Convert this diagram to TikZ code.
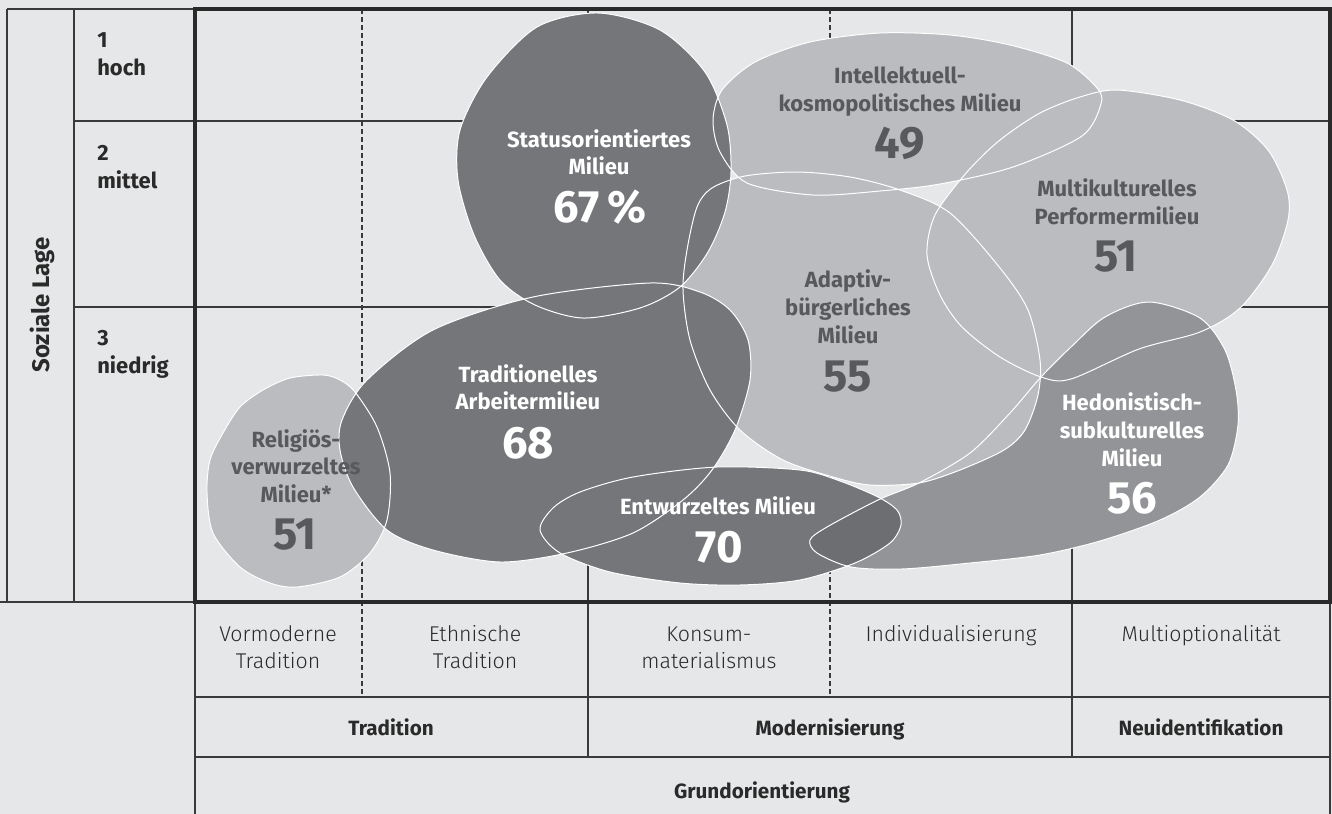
\documentclass[tikz,border=0pt]{standalone}
\usepackage{fontspec}
\setmainfont{Fira Sans}
\newfontfamily\lightfont{Fira Sans Light}
\definecolor{bgc}{HTML}{E6E7E8}
\definecolor{darkb}{HTML}{75767A}
\definecolor{lensb}{HTML}{6D6E72}
\definecolor{lightb}{HTML}{BBBCBF}
\definecolor{medb}{HTML}{939497}
\definecolor{txtmid}{HTML}{58595C}
\definecolor{txtdark}{HTML}{2A2A2A}
\definecolor{gridc}{HTML}{3A3A3A}
\tikzset{
  gridline/.style={draw=gridc, line width=1.1pt},
  frameline/.style={draw=txtdark, line width=2.3pt},
  dashline/.style={draw=gridc, line width=0.8pt, dash pattern=on 3.5pt off 2.5pt},
  outline/.style={draw=white, line width=0.75pt},
  ttl/.style={font=\bfseries\fontsize{16.5}{20}\selectfont, anchor=base, inner sep=0pt},
  num/.style={font=\bfseries\fontsize{34}{38}\selectfont, anchor=base, inner sep=0pt},
  onlight/.style={text=txtmid},
  ondark/.style={text=white},
  rowlab/.style={font=\bfseries\fontsize{16.5}{20}\selectfont, anchor=base west, inner sep=0pt, text=txtdark},
  sublab/.style={font=\lightfont\fontsize{16}{19}\selectfont, anchor=base, inner sep=0pt, text=txtdark},
  headlab/.style={font=\bfseries\fontsize{15.5}{19}\selectfont, anchor=base, inner sep=0pt, text=txtdark},
}
\def\pStatus{plot[smooth cycle] coordinates {(598,13) (660,30) (705,72) (727,125) (731,172) (725,212) (708,252) (680,287) (640,308) (583,318) (535,305) (500,280) (474,235) (458,180) (460,130) (487,77) (537,27)}}
\def\pIntel{plot[smooth cycle] coordinates {(713,120) (722,90) (755,62) (810,42) (880,33) (950,35) (1010,45) (1067,63) (1097,88) (1101,104) (1082,136) (1013,167) (940,184) (880,191) (813,195) (747,183) (720,152)}}
\def\pMulti{plot[smooth cycle] coordinates {(1117,90) (1180,100) (1233,120) (1268,150) (1287,190) (1288,220) (1272,265) (1240,308) (1200,332) (1139,349) (1071,379) (1041,377) (1000,357) (962,327) (940,295) (927,255) (935,215) (967,172) (1000,140) (1040,113) (1080,97)}}
\def\pAdapt{plot[smooth cycle] coordinates {(797,172) (850,177) (900,190) (950,213) (1000,268) (1028,310) (1040,360) (1038,395) (1025,430) (1004,450) (960,470) (919,483) (870,485) (833,477) (783,460) (740,430) (710,390) (690,340) (683,290) (687,250) (697,207) (712,188) (745,176)}}
\def\pHedon{plot[smooth cycle] coordinates {(1149,302) (1200,318) (1225,350) (1236,390) (1238,425) (1228,465) (1200,497) (1160,520) (1100,541) (1040,555) (970,563) (902,569) (851,567) (817,553) (810,540) (827,527) (878,500) (919,483) (970,453) (1010,413) (1041,377) (1071,347) (1105,317)}}
\def\pTrad{plot[smooth cycle] coordinates {(650,283) (533,297) (433,330) (367,380) (342,420) (340,450) (353,487) (387,530) (433,550) (500,562) (567,553) (633,533) (683,500) (712,470) (735,430) (750,380) (748,340) (730,310) (700,292)}}
\def\pEntw{plot[smooth cycle] coordinates {(540,530) (553,508) (580,492) (633,477) (717,467) (800,470) (840,481) (878,497) (897,510) (901,525) (890,543) (855,563) (800,580) (740,585) (680,583) (610,572) (560,553)}}
\def\pRelig{plot[smooth cycle] coordinates {(323,375) (290,378) (263,390) (240,407) (223,433) (210,460) (207,493) (213,533) (240,567) (270,583) (297,587) (340,577) (370,553) (387,520) (390,473) (377,427) (355,392) (340,380)}}
\begin{document}
\begin{tikzpicture}[x=0.75pt, y=-0.75pt]
\useasboundingbox (0,0) rectangle (1332,814);
\fill[bgc] (0,0) rectangle (1332,814);
\coordinate (fTL) at (195,9);
\coordinate (fBR) at (1330,602);
% left columns
\draw[gridline] (7,9) -- (195,9);
\draw[gridline] (7,9) -- (7,602);
\draw[gridline] (74,9) -- (74,602);
\draw[gridline] (74,121) -- (195,121);
\draw[gridline] (74,307) -- (195,307);
\draw[gridline] (0,602) -- (195,602);
% inner grid
\draw[gridline] (195,121) -- (1330,121);
\draw[gridline] (195,307) -- (1330,307);
\draw[gridline] (588,9) -- (588,757);
\draw[gridline] (1072,9) -- (1072,757);
\draw[dashline] (362,9) -- (362,697);
\draw[dashline] (830,9) -- (830,697);
% bottom table
\draw[gridline] (195,602) -- (195,814);
\draw[gridline] (1330,602) -- (1330,814);
\draw[gridline] (195,697) -- (1330,697);
\draw[gridline] (195,757) -- (1330,757);
% blob fills
\fill[lightb] \pRelig;
\fill[lightb] \pIntel;
\fill[lightb] \pMulti;
\fill[medb] \pHedon;
\fill[lightb] \pAdapt;
\fill[darkb] \pTrad;
\fill[darkb] \pEntw;
\begin{scope}
  \clip \pHedon;
  \fill[lensb] \pEntw;
\end{scope}
\fill[darkb] \pStatus;
% outlines
\draw[outline] \pRelig;
\draw[outline] \pIntel;
\draw[outline] \pMulti;
\draw[outline] \pHedon;
\draw[outline] \pAdapt;
\draw[outline] \pTrad;
\draw[outline] \pEntw;
\draw[outline] \pStatus;
% frame
\draw[frameline] (fTL) rectangle (fBR);
% blob labels
\node[ttl, ondark] (st1) at (599,147) {Statusorientiertes};
\node[ttl, ondark] (st2) at (599,174) {Milieu};
\node[num, ondark] (stn) at (600,222) {67\,\%};
\node[ttl, onlight] (in1) at (900,83) {Intellektuell-};
\node[ttl, onlight] (in2) at (900,111) {kosmopolitisches Milieu};
\node[num, onlight] (inn) at (900,158) {49};
\node[ttl, onlight] (mu1) at (1117,196) {Multikulturelles};
\node[ttl, onlight] (mu2) at (1117,224) {Performermilieu};
\node[num, onlight] (mun) at (1116,271) {51};
\node[ttl, onlight] (ad1) at (848,287) {Adaptiv-};
\node[ttl, onlight] (ad2) at (848,315) {bürgerliches};
\node[ttl, onlight] (ad3) at (848,343) {Milieu};
\node[num, onlight] (adn) at (848,391) {55};
\node[ttl, ondark] (tr1) at (528,382) {Traditionelles};
\node[ttl, ondark] (tr2) at (528,409) {Arbeitermilieu};
\node[num, ondark] (trn) at (528,458) {68};
\node[ttl, ondark] (en1) at (718,514) {Entwurzeltes Milieu};
\node[num, ondark] (enn) at (719,562) {70};
\node[ttl, ondark] (he1) at (1132,410) {Hedonistisch-};
\node[ttl, ondark] (he2) at (1132,438) {subkulturelles};
\node[ttl, ondark] (he3) at (1132,466) {Milieu};
\node[num, ondark] (hen) at (1132,513) {56};
\node[ttl, onlight] (re1) at (296,447) {Religiös-};
\node[ttl, onlight] (re2) at (296,474) {verwurzeltes};
\node[ttl, onlight] (re3) at (296,502) {Milieu*};
\node[num, onlight] (ren) at (295,549) {51};
% left labels
\node[font=\bfseries\fontsize{18}{20}\selectfont, text=txtdark, rotate=90, inner sep=0pt] (soz) at (42,305) {Soziale Lage};
\node[rowlab] (r1a) at (97,47) {1};
\node[rowlab] (r1b) at (97,75) {hoch};
\node[rowlab] (r2a) at (97,160) {2};
\node[rowlab] (r2b) at (97,188) {mittel};
\node[rowlab] (r3a) at (97,345) {3};
\node[rowlab] (r3b) at (97,373) {niedrig};
% bottom labels
\node[sublab] (b1a) at (278,641) {Vormoderne};
\node[sublab] (b1b) at (278,668) {Tradition};
\node[sublab] (b2a) at (475,641) {Ethnische};
\node[sublab] (b2b) at (475,668) {Tradition};
\node[sublab] (b3a) at (709,641) {Konsum-};
\node[sublab] (b3b) at (709,668) {materialismus};
\node[sublab] (b4) at (951,641) {Individualisierung};
\node[sublab] (b5) at (1201,641) {Multioptionalität};
\node[headlab] (h1) at (391,735) {Tradition};
\node[headlab] (h2) at (830,735) {Modernisierung};
\node[headlab] (h3) at (1201,735) {Neuidentifikation};
\node[headlab] (h4) at (762,798) {Grundorientierung};
\end{tikzpicture}
\end{document}
